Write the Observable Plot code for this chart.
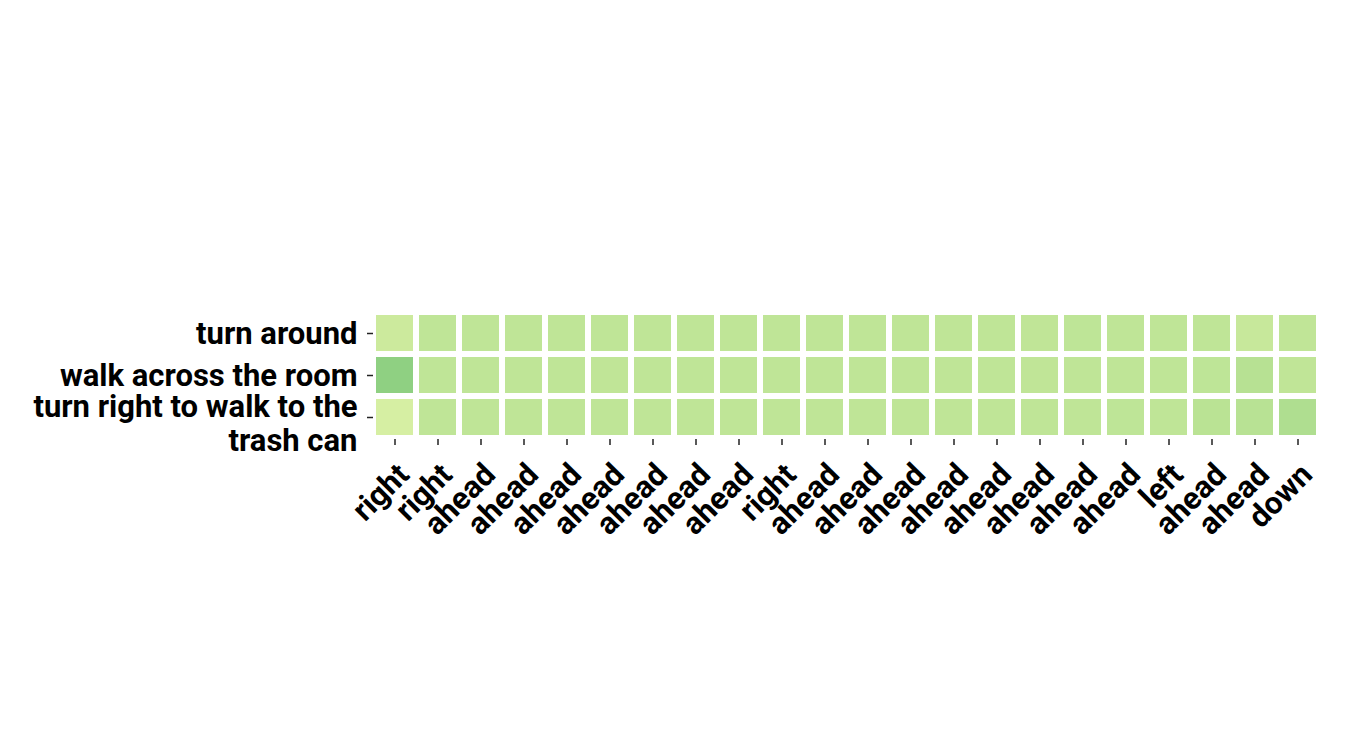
<!DOCTYPE html>
<html>
<head>
<meta charset="utf-8">
<script src="https://cdn.jsdelivr.net/npm/d3@7"></script>
<script src="https://cdn.jsdelivr.net/npm/@observablehq/plot@0.6"></script>
<style>
  html, body { margin: 0; padding: 0; background: #ffffff; }
  #chart svg { display: block; }
</style>
</head>
<body>
<div id="chart"></div>
<script>
// Column (action) labels along x — 22 steps
const colLabels = ["right","right","ahead","ahead","ahead","ahead","ahead","ahead","ahead","right","ahead",
                   "ahead","ahead","ahead","ahead","ahead","ahead","ahead","left","ahead","ahead","down"];
// Row (instruction) labels along y
const instructions = ["turn around", "walk across the room", "turn right to walk to the trash can"];

// Attention weights per instruction (one value per step)
const turnAround = [0.285,0.322,0.322,0.322,0.322,0.322,0.322,0.322,0.322,0.322,0.322,
                    0.322,0.322,0.322,0.322,0.320,0.324,0.322,0.322,0.322,0.300,0.320];
const walkAcross = [0.445,0.322,0.322,0.322,0.322,0.320,0.322,0.322,0.322,0.322,0.322,
                    0.322,0.322,0.322,0.322,0.320,0.322,0.322,0.322,0.324,0.345,0.320];
const turnRight  = [0.252,0.322,0.322,0.322,0.322,0.322,0.322,0.322,0.322,0.322,0.322,
                    0.322,0.322,0.322,0.322,0.322,0.322,0.324,0.322,0.337,0.342,0.365];

const series = [turnAround, walkAcross, turnRight];
const nCols = colLabels.length;

const data = [];
series.forEach((vals, r) => vals.forEach((v, c) => data.push({row: instructions[r], col: c, value: v})));

const wrapLabel = d => d === "turn right to walk to the trash can" ? "turn right to walk to the\ntrash can" : d;
const FONT = 31;

const chart = Plot.plot({
  width: 1350,
  height: 750,
  marginLeft: 373,
  marginRight: 31,
  marginTop: 311,
  marginBottom: 311,
  style: { fontFamily: "Roboto, 'DejaVu Sans', sans-serif", background: "#ffffff" },
  x: { type: "band", domain: d3.range(nCols), padding: 0, axis: null },
  y: { type: "band", domain: instructions, padding: 0, axis: null },
  color: { type: "linear", scheme: "ylgn", domain: [0, 1] },
  marks: [
    Plot.cell(data, { x: "col", y: "row", fill: "value", inset: 3 }),
    // x tick marks
    Plot.axisX({
      tickSize: 6, tickFormat: () => "", stroke: "#222", strokeWidth: 1.5, label: null
    }),
    // x tick labels (rotated)
    Plot.axisX({
      tickSize: 0, tickPadding: 30, tickRotate: -45, dx: 9,
      tickFormat: i => colLabels[i],
      fontSize: FONT, fontWeight: "bold", fill: "#000",
      label: null
    }),
    // y tick marks
    Plot.axisY({
      tickSize: 6, tickFormat: () => "", stroke: "#222", strokeWidth: 1.5, label: null
    }),
    Plot.text(instructions.slice(0, 2), {
      y: d => d, text: d => d, frameAnchor: "left", textAnchor: "end", dx: -16, dy: 1,
      fontSize: FONT, fontWeight: "bold", fill: "#000"
    }),
    Plot.text(instructions.slice(2), {
      y: d => d, text: wrapLabel, frameAnchor: "left", textAnchor: "end", dx: -16, dy: 6,
      fontSize: FONT, fontWeight: "bold", fill: "#000", lineHeight: 1.08
    })
  ]
});
document.getElementById("chart").appendChild(chart);
</script>
</body>
</html>
